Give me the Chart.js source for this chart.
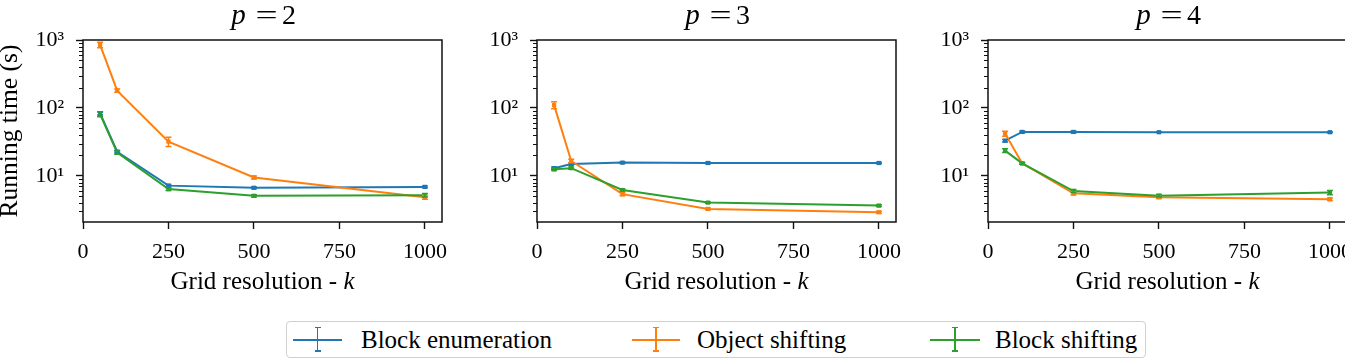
<!DOCTYPE html>
<html><head><meta charset="utf-8">
<script src="https://cdn.jsdelivr.net/npm/chart.js@4.4.0/dist/chart.umd.min.js"></script>
<style>
html,body{margin:0;padding:0;background:#fff;width:1345px;height:359px;overflow:hidden;position:relative;font-family:"Liberation Serif",serif;}
canvas{position:absolute;top:0;}
#legend{position:absolute;left:286px;top:321px;width:860px;height:37px;border:1px solid #d0d0d0;border-radius:4px;background:#fff;box-sizing:border-box;}
.lt{position:absolute;font-size:25px;line-height:25px;color:#000;white-space:nowrap;}
.mk{position:absolute;}
</style></head><body>
<canvas id="c1" width="460" height="359" style="left:0px"></canvas>
<canvas id="c2" width="460" height="359" style="left:454px"></canvas>
<canvas id="c3" width="460" height="359" style="left:905px"></canvas>
<div id="legend"></div>
<script>
// ---- data ----
const gridK = [50, 100, 250, 500, 1000];

const blockEnumP2  = [83, 22.7, 7.2, 6.7, 6.9];
const objShiftP2   = [850, 180, 32, 9.5, 4.85];
const blockShiftP2 = [81, 22, 6.4, 5.1, 5.2];
const blockEnumErrP2  = [4, 1, 0.3, 0.2, 0.2];
const objShiftErrP2   = [80, 10, 5, 0.5, 0.3];
const blockShiftErrP2 = [7, 1.2, 0.3, 0.2, 0.3];

const blockEnumP3  = [13.0, 15.0, 15.7, 15.5, 15.5];
const objShiftP3   = [110, 16.6, 5.4, 3.27, 2.92];
const blockShiftP3 = [12.5, 13.0, 6.2, 4.05, 3.66];
const blockEnumErrP3  = [0.5, 0.5, 0.4, 0.4, 0.4];
const objShiftErrP3   = [13, 1, 0.3, 0.1, 0.1];
const blockShiftErrP3 = [0.5, 0.5, 0.2, 0.1, 0.1];

const blockEnumP4  = [33, 44.4, 44.4, 44, 44];
const objShiftP4   = [42, 15.3, 5.56, 4.86, 4.54];
const blockShiftP4 = [23.6, 15.3, 6.0, 5.13, 5.7];
const blockEnumErrP4  = [1.5, 1.5, 1.5, 0.5, 0.8];
const objShiftErrP4   = [3.5, 0.5, 0.3, 0.2, 0.2];
const blockShiftErrP4 = [1.5, 0.5, 0.3, 0.2, 0.4];

const seriesNames  = ['Block enumeration', 'Object shifting', 'Block shifting'];
const seriesColors = ['#1f77b4', '#ff7f0e', '#2ca02c'];
const panelP = ['2', '3', '4'];
const xTickValues = [0, 250, 500, 750, 1000];
const yMajorValues = [10, 100, 1000];
const yMajorLabels = ['10¹', '10²', '10³'];
const xAxisTitle = 'Grid resolution - ';
const xAxisVar = 'k';
const yAxisTitle = 'Running time (s)';

const panels = [
  {vals: [blockEnumP2, objShiftP2, blockShiftP2], errs: [blockEnumErrP2, objShiftErrP2, blockShiftErrP2]},
  {vals: [blockEnumP3, objShiftP3, blockShiftP3], errs: [blockEnumErrP3, objShiftErrP3, blockShiftErrP3]},
  {vals: [blockEnumP4, objShiftP4, blockShiftP4], errs: [blockEnumErrP4, objShiftErrP4, blockShiftErrP4]},
];

// minor tick positions on the log axis (2..9 x decade)
const yMinorValues = [];
[1, 10, 100].forEach(d => { for (let m = 2; m <= 9; m++) yMinorValues.push(m * d); });
const Y_MIN = 2.1, Y_MAX = 1000;
const yAllTicks = [...yMinorValues.filter(v => v >= Y_MIN), ...yMajorValues].sort((a, b) => a - b);

const FONT = 'Liberation Serif';

function drawMixed(ctx, parts, cx, baseline, size) {
  let total = 0;
  parts.forEach(p => { ctx.font = (p.it ? 'italic ' : '') + size + 'px "' + FONT + '"'; p.w = ctx.measureText(p.t).width; total += p.w; });
  let x = cx - total / 2;
  ctx.textAlign = 'left'; ctx.textBaseline = 'alphabetic';
  parts.forEach(p => { ctx.font = (p.it ? 'italic ' : '') + size + 'px "' + FONT + '"'; ctx.fillText(p.t, x, baseline); x += p.w; });
}

const errorBarPlugin = {
  id: 'errbars',
  afterDatasetsDraw(chart) {
    const {ctx, scales: {x, y}} = chart;
    chart.data.datasets.forEach(ds => {
      const errs = ds.errValues; if (!errs) return;
      ctx.save(); ctx.strokeStyle = ds.borderColor; ctx.lineWidth = 1.5;
      ds.data.forEach((pt, i) => {
        const px = x.getPixelForValue(pt.x);
        const y1 = y.getPixelForValue(pt.y - errs[i]);
        const y2 = y.getPixelForValue(pt.y + errs[i]);
        ctx.beginPath();
        ctx.moveTo(px, y1); ctx.lineTo(px, y2);
        ctx.moveTo(px - 3, y1); ctx.lineTo(px + 3, y1);
        ctx.moveTo(px - 3, y2); ctx.lineTo(px + 3, y2);
        ctx.stroke();
      });
      ctx.restore();
    });
  }
};

const framePlugin = {
  id: 'frame',
  afterDraw(chart, args, opts) {
    const {ctx, chartArea: a, scales: {y}} = chart;
    ctx.save();
    ctx.strokeStyle = '#111'; ctx.lineWidth = 1.5;
    ctx.strokeRect(a.left, a.top, a.right - a.left, a.bottom - a.top);
    // minor ticks
    ctx.lineWidth = 1.1;
    ctx.beginPath();
    yMinorValues.forEach(v => {
      if (v < Y_MIN || v > Y_MAX) return;
      const py = Math.round(y.getPixelForValue(v)) + 0.5;
      ctx.moveTo(a.left - 4, py); ctx.lineTo(a.left, py);
    });
    ctx.stroke();
    ctx.fillStyle = '#000';
    const cx = (a.left + a.right) / 2;
    // title  p = N
    ctx.textBaseline = 'alphabetic'; ctx.textAlign = 'center';
    ctx.font = 'italic 29px "' + FONT + '"'; ctx.fillText('p', cx - 24, 23.5);
    ctx.font = '28px "' + FONT + '"';
    ctx.save(); ctx.translate(cx + 4, 23.5); ctx.scale(1.4, 1); ctx.fillText('=', 0, 0); ctx.restore();
    ctx.fillText(opts.p, cx + 26.5, 23.5);
    // x title
    drawMixed(ctx, [{t: xAxisTitle}, {t: xAxisVar, it: true}], cx, 289, 25);
    if (opts.yTitle) {
      ctx.translate(17, (a.top + a.bottom) / 2);
      ctx.rotate(-Math.PI / 2);
      ctx.font = '25.5px "' + FONT + '"'; ctx.textAlign = 'center';
      ctx.fillText(yAxisTitle, 0, 0);
    }
    ctx.restore();
  }
};

const drawOrder = [2, 1, 0];

panels.forEach((pan, pi) => {
  const datasets = pan.vals.map((vals, si) => ({
    label: seriesNames[si],
    data: gridK.map((k, i) => ({x: k, y: vals[i]})),
    errValues: pan.errs[si],
    borderColor: seriesColors[si],
    backgroundColor: seriesColors[si],
    borderWidth: 2,
    pointStyle: 'rect',
    pointRadius: 3,
    pointBorderWidth: 0,
    tension: 0,
    order: drawOrder[si],
  }));
  new Chart(document.getElementById('c' + (pi + 1)), {
    type: 'line',
    data: {datasets},
    plugins: [errorBarPlugin, framePlugin],
    options: {
      responsive: false, animation: false, events: [],
      layout: {padding: {top: 40, left: 0, right: 18, bottom: 87}},
      plugins: {legend: {display: false}, tooltip: {enabled: false}, frame: {p: panelP[pi], yTitle: pi === 0}},
      scales: {
        x: {
          type: 'linear', min: 0, max: 1050,
          afterBuildTicks: s => { s.ticks = xTickValues.map(v => ({value: v})); },
          afterFit: s => { s.height = 50; s.paddingLeft = 0; s.paddingRight = 0; },
          grid: {drawOnChartArea: false, drawTicks: true, tickLength: 7, tickColor: '#111', tickWidth: 1.4},
          border: {display: false},
          ticks: {autoSkip: false, maxRotation: 0, padding: 10, color: '#000', font: {family: FONT, size: 22},
                  callback: v => String(v)}
        },
        y: {
          type: 'logarithmic', min: Y_MIN, max: Y_MAX,
          afterBuildTicks: s => { s.ticks = yAllTicks.map(v => ({value: v})); },
          afterFit: s => { s.width = 83; s.paddingTop = 0; s.paddingBottom = 0; },
          grid: {drawOnChartArea: false, drawTicks: true, tickLength: 7, tickWidth: 1.4,
                 tickColor: c => (c.tick && yMajorValues.includes(c.tick.value)) ? '#111' : 'rgba(0,0,0,0)'},
          border: {display: false},
          ticks: {autoSkip: false, padding: 12, color: '#000', font: {family: FONT, size: 22},
                  callback: v => { const i = yMajorValues.indexOf(v); return i >= 0 ? yMajorLabels[i] : ''; }}
        }
      }
    }
  });
});

// legend (HTML)
const legendLines = [[293, 342], [632, 680], [930, 980]];
const legendTextX = [361, 697, 995];
seriesNames.forEach((name, i) => {
  const [x1, x2] = legendLines[i];
  const mid = (x1 + x2) / 2;
  const col = seriesColors[i];
  const add = (l, t, w, h) => { const d = document.createElement('div'); d.className = 'mk';
    d.style.cssText = `left:${l}px;top:${t}px;width:${w}px;height:${h}px;background:${col}`; document.body.appendChild(d); };
  add(x1, 339, x2 - x1, 2);
  add(mid - 0.75, 327, 1.5, 24);
  add(mid - 3, 326.5, 6, 1.5);
  add(mid - 3, 350, 6, 1.5);
  const s = document.createElement('span'); s.className = 'lt'; s.textContent = name;
  s.style.left = legendTextX[i] + 'px'; s.style.top = '327px';
  document.body.appendChild(s);
});
</script>
</body></html>
